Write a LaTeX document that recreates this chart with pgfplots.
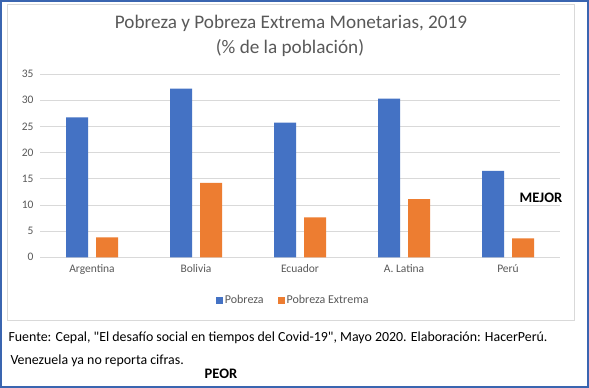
\documentclass[border=0pt]{standalone}
\usepackage{pgfplots}
\pgfplotsset{compat=1.18}
\usepackage{fontspec}
\setmainfont{Carlito}
\definecolor{cblue}{HTML}{4472C4}
\definecolor{corange}{HTML}{ED7D31}
\definecolor{ctext}{HTML}{595959}
\definecolor{cgrid}{HTML}{D9D9D9}
\definecolor{cframe}{HTML}{3A65B0}
\begin{document}
\begin{tikzpicture}[x=1pt,y=1pt]
\useasboundingbox (0,0) rectangle (589,388);
\fill[white] (0,0) rectangle (589,388);
\draw[cframe, line width=1.6pt] (1,1) rectangle (588,387);
\draw[cgrid, line width=0.8pt] (7,68) rectangle (574,384);
\begin{axis}[
  at={(40pt,130.7pt)}, anchor=south west,
  scale only axis, width=520pt, height=183.3pt,
  xmin=-0.5, xmax=4.5, ymin=0, ymax=35,
  ytick={0,5,...,35},
  xtick={0,1,2,3,4},
  xticklabels={Argentina,Bolivia,Ecuador,A. Latina,Perú},
  major tick length=0pt,
  axis line style={draw=none},
  ymajorgrids, grid style={cgrid, line width=0.8pt},
  tick label style={font=\fontsize{11.5}{13}\selectfont, text=ctext},
  /pgf/number format/assume math mode=true,
  yticklabel style={xshift=-3pt},
  xticklabel style={yshift=-4pt},
  ybar, bar width=22pt,
  legend style={at={(0.487,-0.233)}, anchor=center, draw=none, legend columns=2,
    font=\fontsize{12}{14}\selectfont, text=ctext,
    /tikz/every even column/.append style={column sep=12pt}},
  legend image code/.code={\fill[#1] (0pt,-3.5pt) rectangle (7pt,3.5pt);},
]
\addplot[fill=cblue, draw=none, bar shift=-15pt] coordinates {(0,26.7) (1,32.2) (2,25.7) (3,30.3) (4,16.5)};
\addplot[fill=corange, draw=none, bar shift=15pt] coordinates {(0,3.8) (1,14.2) (2,7.6) (3,11.1) (4,3.6)};
\legend{Pobreza, Pobreza Extrema}
\end{axis}
\node[text=ctext, font=\fontsize{19.2}{22}\selectfont] at (291,365) {Pobreza y Pobreza Extrema Monetarias, 2019};
\node[text=ctext, font=\fontsize{19.2}{22}\selectfont] at (290,340) {(\% de la población)};
\node[font=\bfseries\fontsize{14.5}{16}\selectfont] at (541,190) {MEJOR};
\node[font=\bfseries\fontsize{14.5}{16}\selectfont] at (221,14) {PEOR};
\node[anchor=west, font=\fontsize{13.9}{16}\selectfont] at (5,50) {Fuente: Cepal, \textquotedbl El desafío social en tiempos del Covid-19\textquotedbl, Mayo 2020. Elaboración: HacerPerú.};
\node[anchor=west, font=\fontsize{13.9}{16}\selectfont] at (7,27) {Venezuela ya no reporta cifras.};
\end{tikzpicture}
\end{document}
